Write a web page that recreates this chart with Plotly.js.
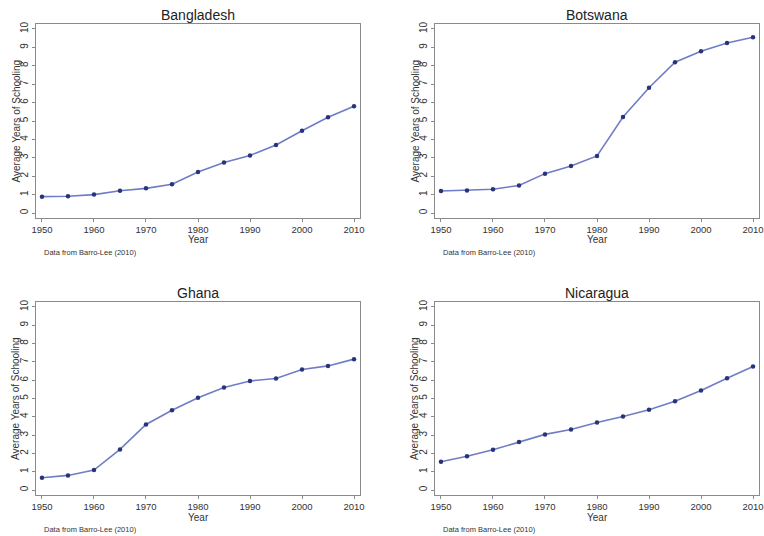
<!DOCTYPE html>
<html>
<head>
<meta charset="utf-8">
<script src="https://cdn.plot.ly/plotly-3.0.1.min.js"></script>
<style>html,body{margin:0;padding:0;background:#fff;}#chart{width:764px;height:536px;}</style>
</head>
<body>
<div id="chart"></div>
<script>
const years = [1950, 1955, 1960, 1965, 1970, 1975, 1980, 1985, 1990, 1995, 2000, 2005, 2010];
const countries = ["Bangladesh", "Botswana", "Ghana", "Nicaragua"];
const bangladesh = [0.89, 0.91, 1.00, 1.21, 1.34, 1.56, 2.23, 2.75, 3.13, 3.70, 4.47, 5.20, 5.80];
const botswana   = [1.20, 1.23, 1.29, 1.50, 2.14, 2.55, 3.10, 5.22, 6.81, 8.19, 8.79, 9.24, 9.55];
const ghana      = [0.67, 0.80, 1.09, 2.22, 3.58, 4.36, 5.04, 5.60, 5.96, 6.09, 6.58, 6.78, 7.15];
const nicaragua  = [1.55, 1.85, 2.20, 2.62, 3.04, 3.31, 3.69, 4.02, 4.38, 4.85, 5.44, 6.11, 6.75];
const series = [bangladesh, botswana, ghana, nicaragua];
const xTickVals = [1950, 1960, 1970, 1980, 1990, 2000, 2010];
const yTickVals = [0, 1, 2, 3, 4, 5, 6, 7, 8, 9, 10];
const xTitle = "Year";
const yTitle = "Average Years of Schooling";
const note = "Data from Barro-Lee (2010)";

const W = 764, H = 536;
const FONT = "Liberation Sans, Arial, sans-serif";
// panel frames in pixels [left, right, top, bottom]
const frames = [
  [36, 360, 24, 218],
  [435, 759, 24, 218],
  [36, 360, 302, 495],
  [435, 759, 302, 495]
];

const traces = [];
const layout = {
  width: W, height: H,
  margin: {l: 0, r: 0, t: 0, b: 0},
  paper_bgcolor: "#ffffff",
  plot_bgcolor: "#ffffff",
  showlegend: false,
  font: {family: FONT, color: "#333"},
  annotations: []
};

series.forEach((vals, i) => {
  const n = i + 1;
  const xa = "x" + (n === 1 ? "" : n), ya = "y" + (n === 1 ? "" : n);
  traces.push({
    x: years, y: vals, xaxis: xa, yaxis: ya,
    type: "scatter", mode: "lines+markers",
    line: {color: "#6f7cc6", width: 1.6},
    marker: {color: "#27347a", size: 4.5},
    hoverinfo: "x+y"
  });
  const [l, r, t, b] = frames[i];
  const axBase = {
    showgrid: false, zeroline: false,
    showline: true, mirror: true, linecolor: "#8a8a8a", linewidth: 1,
    ticks: "outside", ticklen: 3, tickcolor: "#8a8a8a", tickwidth: 1,
    tickfont: {family: FONT, size: 9.5, color: "#333"}
  };
  layout["xaxis" + (n === 1 ? "" : n)] = Object.assign({}, axBase, {
    domain: [l / W, r / W],
    anchor: ya,
    range: [1948.85, 2011.15],
    tickmode: "array", tickvals: xTickVals,
    ticklabeloverflow: "allow"
  });
  layout["yaxis" + (n === 1 ? "" : n)] = Object.assign({}, axBase, {
    domain: [1 - b / H, 1 - t / H],
    anchor: xa,
    range: [-0.27, 10.27],
    tickmode: "array", tickvals: yTickVals,
    tickangle: -90,
    tickfont: {family: FONT, size: 10, color: "#333"}
  });
  const cx = (l + r) / 2;
  layout.annotations.push(
    {text: countries[i], xref: "paper", yref: "paper", x: cx / W, y: 1 - (t - 9) / H,
     xanchor: "center", yanchor: "middle", showarrow: false,
     font: {family: FONT, size: 14, color: "#222"}},
    {text: xTitle, xref: "paper", yref: "paper", x: cx / W, y: 1 - (b + 22) / H,
     xanchor: "center", yanchor: "middle", showarrow: false,
     font: {family: FONT, size: 10, color: "#333"}},
    {text: yTitle, xref: "paper", yref: "paper", x: (l - 20.5) / W, y: 1 - ((t + b) / 2) / H,
     xanchor: "center", yanchor: "middle", showarrow: false, textangle: -90,
     font: {family: FONT, size: 10, color: "#333"}},
    {text: note, xref: "paper", yref: "paper", x: (l + 6) / W, y: 1 - (b + 34) / H,
     xanchor: "left", yanchor: "middle", showarrow: false,
     font: {family: FONT, size: 7.5, color: "#333"}}
  );
});

Plotly.newPlot("chart", traces, layout, {displayModeBar: false, staticPlot: true});
</script>
</body>
</html>
